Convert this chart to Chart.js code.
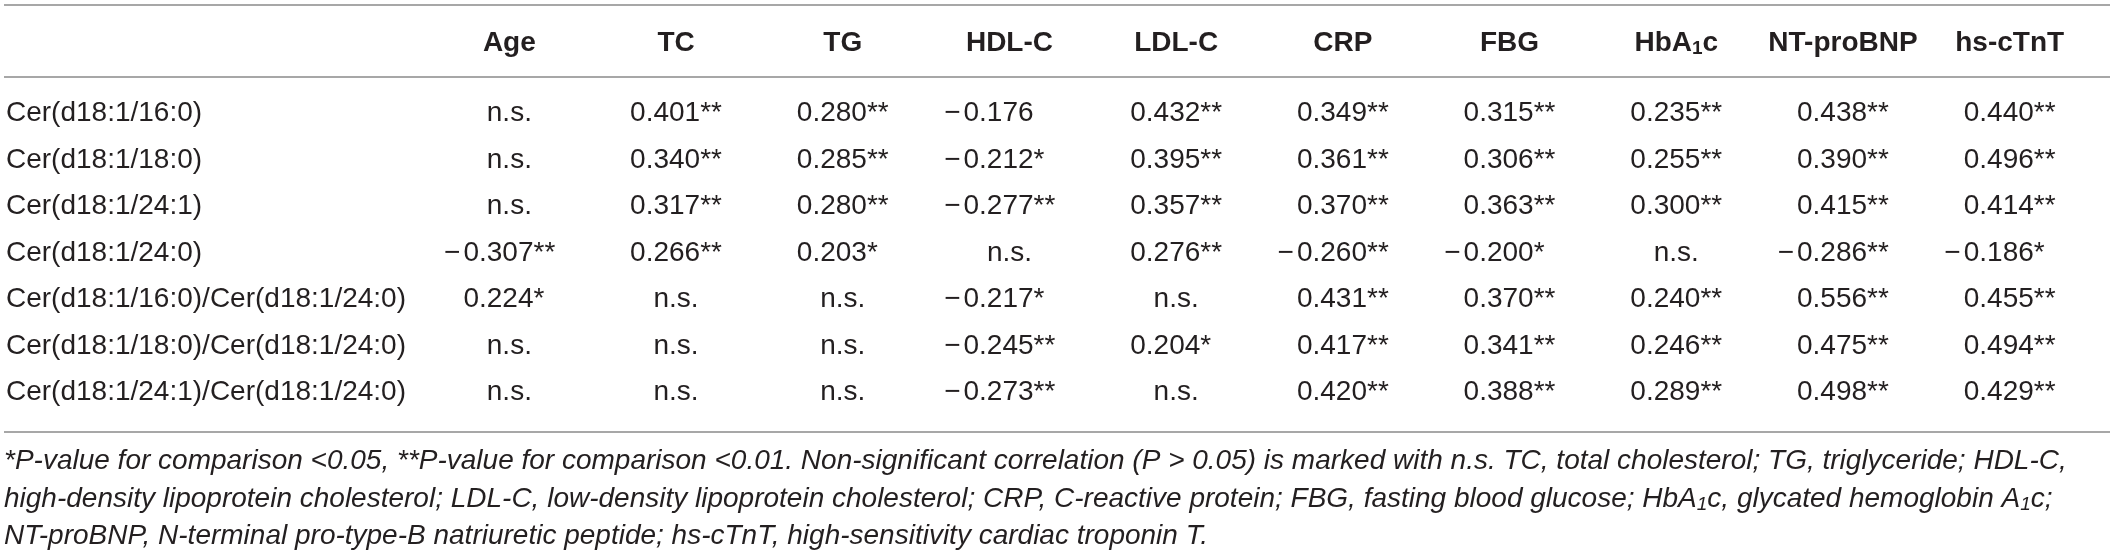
<!DOCTYPE html>
<html>
<head>
<meta charset="utf-8">
<script src="https://cdn.jsdelivr.net/npm/chart.js@4.4.1/dist/chart.umd.min.js"></script>
<style>
  html, body { margin: 0; padding: 0; background: #ffffff; }
  canvas { display: block; }
</style>
</head>
<body>
<canvas id="c" width="2118" height="555"></canvas>
<script>
// ---------- DATA ----------
const columns = ['Age', 'TC', 'TG', 'HDL-C', 'LDL-C', 'CRP', 'FBG', 'HbA₁c', 'NT-proBNP', 'hs-cTnT'];

const rowLabels = [
  'Cer(d18:1/16:0)',
  'Cer(d18:1/18:0)',
  'Cer(d18:1/24:1)',
  'Cer(d18:1/24:0)',
  'Cer(d18:1/16:0)/Cer(d18:1/24:0)',
  'Cer(d18:1/18:0)/Cer(d18:1/24:0)',
  'Cer(d18:1/24:1)/Cer(d18:1/24:0)'
];

const cer16_0 = ['n.s.', '0.401**', '0.280**', '−0.176', '0.432**', '0.349**', '0.315**', '0.235**', '0.438**', '0.440**'];
const cer18_0 = ['n.s.', '0.340**', '0.285**', '−0.212*', '0.395**', '0.361**', '0.306**', '0.255**', '0.390**', '0.496**'];
const cer24_1 = ['n.s.', '0.317**', '0.280**', '−0.277**', '0.357**', '0.370**', '0.363**', '0.300**', '0.415**', '0.414**'];
const cer24_0 = ['−0.307**', '0.266**', '0.203*', 'n.s.', '0.276**', '−0.260**', '−0.200*', 'n.s.', '−0.286**', '−0.186*'];
const ratio16_24 = ['0.224*', 'n.s.', 'n.s.', '−0.217*', 'n.s.', '0.431**', '0.370**', '0.240**', '0.556**', '0.455**'];
const ratio18_24 = ['n.s.', 'n.s.', 'n.s.', '−0.245**', '0.204*', '0.417**', '0.341**', '0.246**', '0.475**', '0.494**'];
const ratio241_24 = ['n.s.', 'n.s.', 'n.s.', '−0.273**', 'n.s.', '0.420**', '0.388**', '0.289**', '0.498**', '0.429**'];

const rowValues = [cer16_0, cer18_0, cer24_1, cer24_0, ratio16_24, ratio18_24, ratio241_24];

const footnoteLines = [
  '*P-value for comparison <0.05, **P-value for comparison <0.01. Non-significant correlation (P > 0.05) is marked with n.s. TC, total cholesterol; TG, triglyceride; HDL-C,',
  'high-density lipoprotein cholesterol; LDL-C, low-density lipoprotein cholesterol; CRP, C-reactive protein; FBG, fasting blood glucose; HbA₁c, glycated hemoglobin A₁c;',
  'NT-proBNP, N-terminal pro-type-B natriuretic peptide; hs-cTnT, high-sensitivity cardiac troponin T.'
];

// ---------- BUILD CELLS ----------
const cells = [];
rowValues.forEach((vals, r) => vals.forEach((t, c) => cells.push({ x: c, y: r, text: t })));

// ---------- DRAWING HELPERS ----------
const FAMILY = '"Liberation Sans", Arial, Helvetica, sans-serif';
const INK = '#231f20';
const RULE = '#a7a7a7';

function fontStr(style, weight, size) {
  return `${style} ${weight} ${size}px ${FAMILY}`;
}

function richParts(text) {
  const parts = [];
  let buf = '';
  for (const ch of text) {
    if (ch === '₁') {
      if (buf) parts.push({ t: buf, sub: false });
      parts.push({ t: '1', sub: true });
      buf = '';
    } else buf += ch;
  }
  if (buf) parts.push({ t: buf, sub: false });
  return parts;
}

function drawRich(ctx, text, x, y, size, weight, style, align, maxW) {
  const parts = richParts(text);
  const subSize = Math.round(size * 0.68);
  let total = 0;
  parts.forEach(p => {
    ctx.font = fontStr(style, weight, p.sub ? subSize : size);
    p.w = ctx.measureText(p.t).width;
    total += p.w;
  });
  const k = maxW && total > maxW ? maxW / total : 1;
  let cx = align === 'center' ? x - (total * k) / 2 : x;
  ctx.textAlign = 'left';
  parts.forEach(p => {
    ctx.font = fontStr(style, weight, p.sub ? subSize : size);
    ctx.fillText(p.t, cx, p.sub ? y + size * 0.22 : y, p.w * k);
    cx += p.w * k;
  });
}

const tablePlugin = {
  id: 'tableText',
  afterDatasetsDraw(chart) {
    const ctx = chart.ctx;
    const xs = chart.scales.x;
    const ys = chart.scales.y;
    const area = chart.chartArea;
    const W = chart.width;
    ctx.save();

    // horizontal rules
    ctx.strokeStyle = RULE;
    ctx.lineWidth = 2;
    const rules = [area.top - 85, area.top - 13, area.bottom + 16];
    rules.forEach(yy => {
      ctx.beginPath();
      ctx.moveTo(4, yy);
      ctx.lineTo(W - 8, yy);
      ctx.stroke();
    });

    ctx.fillStyle = INK;
    ctx.textBaseline = 'middle';

    // header labels (through x scale)
    columns.forEach((lab, c) => {
      drawRich(ctx, lab, xs.getPixelForValue(c), area.top - 47, 28, 'bold', 'normal', 'center');
    });

    // row labels (through y scale)
    ctx.font = fontStr('normal', 'normal', 28);
    ctx.textAlign = 'left';
    rowLabels.forEach((lab, r) => {
      ctx.fillText(lab, 6, ys.getPixelForValue(r));
    });

    // cells at dataset point positions
    const meta = chart.getDatasetMeta(0);
    const data = chart.data.datasets[0].data;
    ctx.font = fontStr('normal', 'normal', 28);
    const refW = ctx.measureText('0.000**').width;
    const dashW = ctx.measureText('−').width;
    meta.data.forEach((el, i) => {
      const t = data[i].text;
      const px = el.x, py = el.y;
      if (t === 'n.s.') {
        ctx.textAlign = 'center';
        ctx.fillText(t, px, py);
      } else {
        ctx.textAlign = 'left';
        const anchor = px - refW / 2;
        if (t.startsWith('−')) {
          ctx.fillText('−', anchor - dashW - 3, py);
          ctx.fillText(t.slice(1), anchor, py);
        } else {
          ctx.fillText(t, anchor, py);
        }
      }
    });

    // footnotes
    const fy = [area.bottom + 45, area.bottom + 83, area.bottom + 120];
    footnoteLines.forEach((line, k) => {
      drawRich(ctx, line, 4, fy[k], 28, 'normal', 'italic', 'left', W - 14);
    });

    ctx.restore();
  }
};

new Chart(document.getElementById('c'), {
  type: 'scatter',
  data: {
    datasets: [{
      data: cells,
      pointRadius: 0,
      pointHoverRadius: 0,
      showLine: false
    }]
  },
  options: {
    responsive: false,
    animation: false,
    devicePixelRatio: 1,
    layout: { padding: { left: 426, right: 25, top: 90, bottom: 139 } },
    plugins: { legend: { display: false }, tooltip: { enabled: false } },
    events: [],
    scales: {
      x: { type: 'linear', min: -0.5, max: columns.length - 0.5, display: false },
      y: { type: 'linear', min: -0.5, max: rowLabels.length - 0.5, reverse: true, display: false }
    }
  },
  plugins: [tablePlugin]
});
</script>
</body>
</html>
